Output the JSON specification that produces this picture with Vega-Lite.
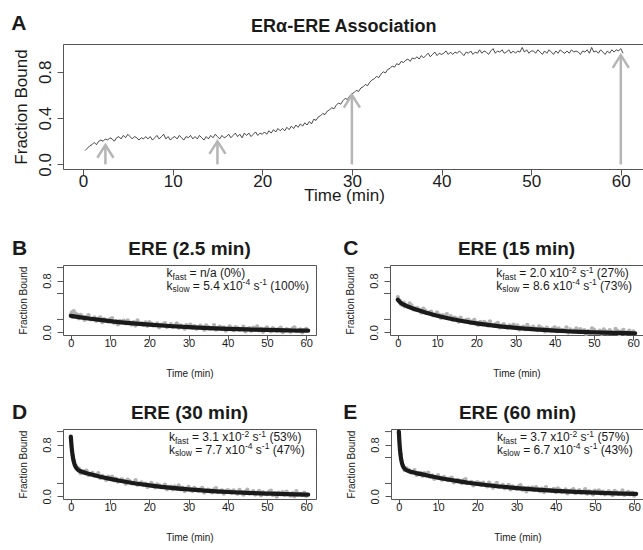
{
"$schema": "https://vega.github.io/schema/vega-lite/v6.json",
"autosize": {"type": "pad"},
"padding": {"left": 10, "top": 12, "right": 0, "bottom": 0},
"background": "white",
"config": {
 "font": "Liberation Sans",
 "view": {"stroke": "#555555", "strokeWidth": 1},
 "axis": {"domain": false, "grid": false, "tickColor": "#555555", "tickWidth": 1, "labelColor": "#1a1a1a", "titleColor": "#1a1a1a", "titleFontWeight": "normal", "labelFlush": false, "labelOverlap": false, "labelFont": "Liberation Sans", "titleFont": "Liberation Sans"},
 "text": {"baseline": "alphabetic", "align": "left", "color": "#1a1a1a", "font": "Liberation Sans"}
},
"datasets": {
 "minor": [{"v":0.2},{"v":0.6},{"v":1.0}],
 "trace": [
{"t":0.25,"y":0.12},{"t":0.5,"y":0.14},{"t":0.75,"y":0.16},{"t":1,"y":0.17},{"t":1.25,"y":0.19},{"t":1.5,"y":0.17},{"t":1.75,"y":0.2},{"t":2,"y":0.21},
{"t":2.25,"y":0.2},{"t":2.5,"y":0.22},{"t":2.75,"y":0.21},{"t":3,"y":0.23},{"t":3.25,"y":0.22},{"t":3.5,"y":0.2},{"t":3.75,"y":0.23},{"t":4,"y":0.24},
{"t":4.25,"y":0.22},{"t":4.5,"y":0.25},{"t":4.75,"y":0.23},{"t":5,"y":0.26},{"t":5.25,"y":0.24},{"t":5.5,"y":0.22},{"t":5.75,"y":0.24},{"t":6,"y":0.23},
{"t":6.25,"y":0.21},{"t":6.5,"y":0.23},{"t":6.75,"y":0.22},{"t":7,"y":0.24},{"t":7.25,"y":0.22},{"t":7.5,"y":0.24},{"t":7.75,"y":0.21},{"t":8,"y":0.23},
{"t":8.25,"y":0.25},{"t":8.5,"y":0.22},{"t":8.75,"y":0.24},{"t":9,"y":0.26},{"t":9.25,"y":0.22},{"t":9.5,"y":0.24},{"t":9.75,"y":0.21},{"t":10,"y":0.23},
{"t":10.25,"y":0.24},{"t":10.5,"y":0.22},{"t":10.75,"y":0.25},{"t":11,"y":0.23},{"t":11.25,"y":0.21},{"t":11.5,"y":0.24},{"t":11.75,"y":0.23},{"t":12,"y":0.25},
{"t":12.25,"y":0.22},{"t":12.5,"y":0.24},{"t":12.75,"y":0.22},{"t":13,"y":0.25},{"t":13.25,"y":0.23},{"t":13.5,"y":0.21},{"t":13.75,"y":0.24},{"t":14,"y":0.22},
{"t":14.25,"y":0.25},{"t":14.5,"y":0.23},{"t":14.75,"y":0.26},{"t":15,"y":0.24},{"t":15.25,"y":0.22},{"t":15.5,"y":0.25},{"t":15.75,"y":0.23},{"t":16,"y":0.24},
{"t":16.25,"y":0.26},{"t":16.5,"y":0.23},{"t":16.75,"y":0.25},{"t":17,"y":0.27},{"t":17.25,"y":0.24},{"t":17.5,"y":0.26},{"t":17.75,"y":0.23},{"t":18,"y":0.27},
{"t":18.25,"y":0.25},{"t":18.5,"y":0.27},{"t":18.75,"y":0.24},{"t":19,"y":0.26},{"t":19.25,"y":0.28},{"t":19.5,"y":0.25},{"t":19.75,"y":0.27},{"t":20,"y":0.26},
{"t":20.25,"y":0.28},{"t":20.5,"y":0.26},{"t":20.75,"y":0.29},{"t":21,"y":0.27},{"t":21.25,"y":0.3},{"t":21.5,"y":0.28},{"t":21.75,"y":0.31},{"t":22,"y":0.29},
{"t":22.25,"y":0.31},{"t":22.5,"y":0.29},{"t":22.75,"y":0.32},{"t":23,"y":0.3},{"t":23.25,"y":0.33},{"t":23.5,"y":0.31},{"t":23.75,"y":0.34},{"t":24,"y":0.32},
{"t":24.25,"y":0.35},{"t":24.5,"y":0.33},{"t":24.75,"y":0.36},{"t":25,"y":0.34},{"t":25.25,"y":0.37},{"t":25.5,"y":0.35},{"t":25.75,"y":0.39},{"t":26,"y":0.38},
{"t":26.25,"y":0.41},{"t":26.5,"y":0.42},{"t":26.75,"y":0.44},{"t":27,"y":0.43},{"t":27.25,"y":0.46},{"t":27.5,"y":0.47},{"t":27.75,"y":0.49},{"t":28,"y":0.48},
{"t":28.25,"y":0.51},{"t":28.5,"y":0.53},{"t":28.75,"y":0.52},{"t":29,"y":0.55},{"t":29.25,"y":0.57},{"t":29.5,"y":0.56},{"t":29.75,"y":0.59},{"t":30,"y":0.61},
{"t":30.25,"y":0.62},{"t":30.5,"y":0.64},{"t":30.75,"y":0.63},{"t":31,"y":0.66},{"t":31.25,"y":0.67},{"t":31.5,"y":0.69},{"t":31.75,"y":0.68},{"t":32,"y":0.71},
{"t":32.25,"y":0.73},{"t":32.5,"y":0.74},{"t":32.75,"y":0.76},{"t":33,"y":0.75},{"t":33.25,"y":0.78},{"t":33.5,"y":0.8},{"t":33.75,"y":0.79},{"t":34,"y":0.82},
{"t":34.25,"y":0.83},{"t":34.5,"y":0.85},{"t":34.75,"y":0.84},{"t":35,"y":0.87},{"t":35.25,"y":0.86},{"t":35.5,"y":0.89},{"t":35.75,"y":0.88},{"t":36,"y":0.9},
{"t":36.25,"y":0.91},{"t":36.5,"y":0.89},{"t":36.75,"y":0.92},{"t":37,"y":0.91},{"t":37.25,"y":0.93},{"t":37.5,"y":0.91},{"t":37.75,"y":0.94},{"t":38,"y":0.92},
{"t":38.25,"y":0.94},{"t":38.5,"y":0.96},{"t":38.75,"y":0.93},{"t":39,"y":0.95},{"t":39.25,"y":0.97},{"t":39.5,"y":0.94},{"t":39.75,"y":0.96},{"t":40,"y":0.95},
{"t":40.25,"y":0.96},{"t":40.5,"y":0.98},{"t":40.75,"y":0.95},{"t":41,"y":0.97},{"t":41.25,"y":0.95},{"t":41.5,"y":0.97},{"t":41.75,"y":0.96},{"t":42,"y":0.98},
{"t":42.25,"y":0.96},{"t":42.5,"y":0.94},{"t":42.75,"y":0.97},{"t":43,"y":0.96},{"t":43.25,"y":0.98},{"t":43.5,"y":0.95},{"t":43.75,"y":0.97},{"t":44,"y":0.96},
{"t":44.25,"y":0.99},{"t":44.5,"y":0.96},{"t":44.75,"y":0.98},{"t":45,"y":0.97},{"t":45.25,"y":0.95},{"t":45.5,"y":0.98},{"t":45.75,"y":1.0},{"t":46,"y":0.96},
{"t":46.25,"y":0.98},{"t":46.5,"y":0.97},{"t":46.75,"y":0.99},{"t":47,"y":0.96},{"t":47.25,"y":0.97},{"t":47.5,"y":0.99},{"t":47.75,"y":0.96},{"t":48,"y":0.98},
{"t":48.25,"y":0.96},{"t":48.5,"y":0.98},{"t":48.75,"y":0.97},{"t":49,"y":1.01},{"t":49.25,"y":0.97},{"t":49.5,"y":0.99},{"t":49.75,"y":0.96},{"t":50,"y":0.98},
{"t":50.25,"y":0.98},{"t":50.5,"y":0.96},{"t":50.75,"y":0.99},{"t":51,"y":0.97},{"t":51.25,"y":0.95},{"t":51.5,"y":0.98},{"t":51.75,"y":0.96},{"t":52,"y":0.99},
{"t":52.25,"y":0.97},{"t":52.5,"y":0.95},{"t":52.75,"y":0.98},{"t":53,"y":0.96},{"t":53.25,"y":0.99},{"t":53.5,"y":0.97},{"t":53.75,"y":0.96},{"t":54,"y":0.98},
{"t":54.25,"y":0.96},{"t":54.5,"y":0.99},{"t":54.75,"y":0.97},{"t":55,"y":0.98},{"t":55.25,"y":0.97},{"t":55.5,"y":0.95},{"t":55.75,"y":0.98},{"t":56,"y":0.97},
{"t":56.25,"y":0.99},{"t":56.5,"y":0.96},{"t":56.75,"y":1.01},{"t":57,"y":0.97},{"t":57.25,"y":0.98},{"t":57.5,"y":0.96},{"t":57.75,"y":0.99},{"t":58,"y":0.97},
{"t":58.25,"y":0.95},{"t":58.5,"y":0.98},{"t":58.75,"y":0.96},{"t":59,"y":0.99},{"t":59.25,"y":0.97},{"t":59.5,"y":0.99},{"t":59.75,"y":0.98},{"t":60,"y":1.0},
{"t":60.25,"y":0.96}
 ],
 "arrows": [
  {"a":1,"x":2.5,"y0":0,"y1":0.167},
  {"a":2,"x":15,"y0":0,"y1":0.2},
  {"a":3,"x":30,"y0":0,"y1":0.6},
  {"a":4,"x":60,"y0":0,"y1":0.944}
 ],
 "heads": [
  {"a":1,"x":1.6,"y":0.057},{"a":1,"x":2.5,"y":0.167},{"a":1,"x":3.4,"y":0.057},
  {"a":2,"x":14.1,"y":0.09},{"a":2,"x":15,"y":0.2},{"a":2,"x":15.9,"y":0.09},
  {"a":3,"x":29.1,"y":0.49},{"a":3,"x":30,"y":0.6},{"a":3,"x":30.9,"y":0.49},
  {"a":4,"x":59.1,"y":0.834},{"a":4,"x":60,"y":0.944},{"a":4,"x":60.9,"y":0.834}
 ],
 "fit": [
{"p":"B","t":0,"y":0.255},{"p":"B","t":2.5,"y":0.232},{"p":"B","t":5,"y":0.211},{"p":"B","t":7.5,"y":0.192},{"p":"B","t":10,"y":0.174},{"p":"B","t":15,"y":0.144},{"p":"B","t":20,"y":0.119},{"p":"B","t":25,"y":0.099},{"p":"B","t":30,"y":0.082},{"p":"B","t":35,"y":0.067},{"p":"B","t":40,"y":0.056},{"p":"B","t":45,"y":0.046},{"p":"B","t":50,"y":0.038},{"p":"B","t":55,"y":0.032},{"p":"B","t":60,"y":0.026},{"p":"B","t":60.5,"y":0.026},
{"p":"C","t":0,"y":0.505},{"p":"C","t":0.25,"y":0.485},{"p":"C","t":0.5,"y":0.47},{"p":"C","t":0.75,"y":0.457},{"p":"C","t":1,"y":0.446},{"p":"C","t":1.5,"y":0.428},{"p":"C","t":2,"y":0.412},{"p":"C","t":2.5,"y":0.399},{"p":"C","t":3,"y":0.387},{"p":"C","t":4,"y":0.365},{"p":"C","t":5,"y":0.344},{"p":"C","t":7.5,"y":0.299},{"p":"C","t":10,"y":0.258},{"p":"C","t":12.5,"y":0.223},{"p":"C","t":15,"y":0.192},{"p":"C","t":17.5,"y":0.164},{"p":"C","t":20,"y":0.14},{"p":"C","t":25,"y":0.1},{"p":"C","t":30,"y":0.07},{"p":"C","t":35,"y":0.046},{"p":"C","t":40,"y":0.027},{"p":"C","t":45,"y":0.013},{"p":"C","t":50,"y":0.002},{"p":"C","t":55,"y":-0.006},{"p":"C","t":60,"y":-0.013},{"p":"C","t":60.5,"y":-0.013},
{"p":"D","t":0,"y":0.92},{"p":"D","t":0.1,"y":0.835},{"p":"D","t":0.25,"y":0.733},{"p":"D","t":0.5,"y":0.614},{"p":"D","t":0.75,"y":0.537},{"p":"D","t":1,"y":0.487},{"p":"D","t":1.5,"y":0.431},{"p":"D","t":2,"y":0.404},{"p":"D","t":3,"y":0.376},{"p":"D","t":4,"y":0.358},{"p":"D","t":5,"y":0.341},{"p":"D","t":7.5,"y":0.304},{"p":"D","t":10,"y":0.271},{"p":"D","t":12.5,"y":0.241},{"p":"D","t":15,"y":0.215},{"p":"D","t":17.5,"y":0.191},{"p":"D","t":20,"y":0.171},{"p":"D","t":25,"y":0.136},{"p":"D","t":30,"y":0.108},{"p":"D","t":35,"y":0.085},{"p":"D","t":40,"y":0.068},{"p":"D","t":45,"y":0.054},{"p":"D","t":50,"y":0.043},{"p":"D","t":55,"y":0.034},{"p":"D","t":60,"y":0.027},{"p":"D","t":60.5,"y":0.026},
{"p":"E","t":0,"y":1.0},{"p":"E","t":0.1,"y":0.885},{"p":"E","t":0.25,"y":0.753},{"p":"E","t":0.5,"y":0.609},{"p":"E","t":0.75,"y":0.525},{"p":"E","t":1,"y":0.475},{"p":"E","t":1.5,"y":0.425},{"p":"E","t":2,"y":0.404},{"p":"E","t":3,"y":0.382},{"p":"E","t":4,"y":0.366},{"p":"E","t":5,"y":0.352},{"p":"E","t":7.5,"y":0.318},{"p":"E","t":10,"y":0.288},{"p":"E","t":12.5,"y":0.26},{"p":"E","t":15,"y":0.235},{"p":"E","t":17.5,"y":0.213},{"p":"E","t":20,"y":0.192},{"p":"E","t":25,"y":0.157},{"p":"E","t":30,"y":0.129},{"p":"E","t":35,"y":0.105},{"p":"E","t":40,"y":0.086},{"p":"E","t":45,"y":0.07},{"p":"E","t":50,"y":0.058},{"p":"E","t":55,"y":0.047},{"p":"E","t":60,"y":0.039},{"p":"E","t":60.5,"y":0.038}
 ],
 "pts": [
{"p":"B","t":0,"y":0.275},{"p":"B","t":0.25,"y":0.31},{"p":"B","t":0.5,"y":0.24},{"p":"B","t":0.75,"y":0.33},{"p":"B","t":1,"y":0.276},{"p":"B","t":1.25,"y":0.29},{"p":"B","t":1.5,"y":0.241},{"p":"B","t":1.75,"y":0.27},
{"p":"B","t":2,"y":0.217},{"p":"B","t":2.5,"y":0.272},{"p":"B","t":3,"y":0.238},{"p":"B","t":3.5,"y":0.193},{"p":"B","t":4,"y":0.239},{"p":"B","t":4.5,"y":0.265},{"p":"B","t":5,"y":0.201},{"p":"B","t":5.5,"y":0.207},
{"p":"B","t":6,"y":0.233},{"p":"B","t":6.5,"y":0.179},{"p":"B","t":7,"y":0.206},{"p":"B","t":7.5,"y":0.232},{"p":"B","t":8,"y":0.158},{"p":"B","t":8.5,"y":0.205},{"p":"B","t":9,"y":0.181},{"p":"B","t":9.5,"y":0.168},
{"p":"B","t":10,"y":0.204},{"p":"B","t":10.5,"y":0.221},{"p":"B","t":11,"y":0.148},{"p":"B","t":11.5,"y":0.175},{"p":"B","t":12,"y":0.122},{"p":"B","t":12.5,"y":0.179},{"p":"B","t":13,"y":0.156},{"p":"B","t":13.5,"y":0.183},
{"p":"B","t":14,"y":0.14},{"p":"B","t":14.5,"y":0.187},{"p":"B","t":15,"y":0.154},{"p":"B","t":15.5,"y":0.121},{"p":"B","t":16,"y":0.159},{"p":"B","t":16.5,"y":0.106},{"p":"B","t":17,"y":0.184},{"p":"B","t":17.5,"y":0.131},
{"p":"B","t":18,"y":0.139},{"p":"B","t":18.5,"y":0.116},{"p":"B","t":19,"y":0.154},{"p":"B","t":19.5,"y":0.101},{"p":"B","t":20,"y":0.159},{"p":"B","t":20.5,"y":0.137},{"p":"B","t":21,"y":0.105},{"p":"B","t":21.5,"y":0.112},
{"p":"B","t":22,"y":0.14},{"p":"B","t":22.5,"y":0.078},{"p":"B","t":23,"y":0.116},{"p":"B","t":23.5,"y":0.124},{"p":"B","t":24,"y":0.142},{"p":"B","t":24.5,"y":0.08},{"p":"B","t":25,"y":0.099},{"p":"B","t":25.5,"y":0.127},
{"p":"B","t":26,"y":0.085},{"p":"B","t":26.5,"y":0.103},{"p":"B","t":27,"y":0.141},{"p":"B","t":27.5,"y":0.07},{"p":"B","t":28,"y":0.108},{"p":"B","t":28.5,"y":0.086},{"p":"B","t":29,"y":0.055},{"p":"B","t":29.5,"y":0.113},
{"p":"B","t":30,"y":0.092},{"p":"B","t":30.5,"y":0.12},{"p":"B","t":31,"y":0.069},{"p":"B","t":31.5,"y":0.097},{"p":"B","t":32,"y":0.056},{"p":"B","t":32.5,"y":0.074},{"p":"B","t":33,"y":0.103},{"p":"B","t":33.5,"y":0.082},
{"p":"B","t":34,"y":0.04},{"p":"B","t":34.5,"y":0.109},{"p":"B","t":35,"y":0.087},{"p":"B","t":35.5,"y":0.056},{"p":"B","t":36,"y":0.065},{"p":"B","t":36.5,"y":0.114},{"p":"B","t":37,"y":0.042},{"p":"B","t":37.5,"y":0.071},
{"p":"B","t":38,"y":0.09},{"p":"B","t":38.5,"y":0.049},{"p":"B","t":39,"y":0.078},{"p":"B","t":39.5,"y":0.027},{"p":"B","t":40,"y":0.056},{"p":"B","t":40.5,"y":0.095},{"p":"B","t":41,"y":0.064},{"p":"B","t":41.5,"y":0.033},
{"p":"B","t":42,"y":0.082},{"p":"B","t":42.5,"y":0.071},{"p":"B","t":43,"y":0.04},{"p":"B","t":43.5,"y":0.049},{"p":"B","t":44,"y":0.088},{"p":"B","t":44.5,"y":0.017},{"p":"B","t":45,"y":0.056},{"p":"B","t":45.5,"y":0.065},
{"p":"B","t":46,"y":0.024},{"p":"B","t":46.5,"y":0.074},{"p":"B","t":47,"y":0.043},{"p":"B","t":47.5,"y":0.092},{"p":"B","t":48,"y":0.031},{"p":"B","t":48.5,"y":0.06},{"p":"B","t":49,"y":0.01},{"p":"B","t":49.5,"y":0.049},
{"p":"B","t":50,"y":0.078},{"p":"B","t":50.5,"y":0.037},{"p":"B","t":51,"y":0.017},{"p":"B","t":51.5,"y":0.066},{"p":"B","t":52,"y":0.045},{"p":"B","t":52.5,"y":0.025},{"p":"B","t":53,"y":0.054},{"p":"B","t":53.5,"y":0.073},
{"p":"B","t":54,"y":0.003},{"p":"B","t":54.5,"y":0.032},{"p":"B","t":55,"y":0.052},{"p":"B","t":55.5,"y":0.041},{"p":"B","t":56,"y":0.01},{"p":"B","t":56.5,"y":0.06},{"p":"B","t":57,"y":0.079},{"p":"B","t":57.5,"y":0.019},
{"p":"B","t":58,"y":0.028},{"p":"B","t":58.5,"y":0.048},{"p":"B","t":59,"y":-0.003},{"p":"B","t":59.5,"y":0.037},{"p":"B","t":60,"y":0.056},
{"p":"C","t":0,"y":0.545},{"p":"C","t":0.25,"y":0.5},{"p":"C","t":0.5,"y":0.49},{"p":"C","t":0.75,"y":0.44},{"p":"C","t":1,"y":0.426},{"p":"C","t":1.25,"y":0.45},{"p":"C","t":1.5,"y":0.458},{"p":"C","t":1.75,"y":0.4},
{"p":"C","t":2,"y":0.422},{"p":"C","t":2.5,"y":0.399},{"p":"C","t":3,"y":0.447},{"p":"C","t":3.5,"y":0.416},{"p":"C","t":4,"y":0.355},{"p":"C","t":4.5,"y":0.374},{"p":"C","t":5,"y":0.374},{"p":"C","t":5.5,"y":0.345},
{"p":"C","t":6,"y":0.305},{"p":"C","t":6.5,"y":0.366},{"p":"C","t":7,"y":0.337},{"p":"C","t":7.5,"y":0.299},{"p":"C","t":8,"y":0.31},{"p":"C","t":8.5,"y":0.322},{"p":"C","t":9,"y":0.264},{"p":"C","t":9.5,"y":0.276},
{"p":"C","t":10,"y":0.308},{"p":"C","t":10.5,"y":0.271},{"p":"C","t":11,"y":0.224},{"p":"C","t":11.5,"y":0.266},{"p":"C","t":12,"y":0.23},{"p":"C","t":12.5,"y":0.283},{"p":"C","t":13,"y":0.226},{"p":"C","t":13.5,"y":0.25},
{"p":"C","t":14,"y":0.194},{"p":"C","t":14.5,"y":0.228},{"p":"C","t":15,"y":0.212},{"p":"C","t":15.5,"y":0.166},{"p":"C","t":16,"y":0.23},{"p":"C","t":16.5,"y":0.185},{"p":"C","t":17,"y":0.169},{"p":"C","t":17.5,"y":0.194},
{"p":"C","t":18,"y":0.199},{"p":"C","t":18.5,"y":0.144},{"p":"C","t":19,"y":0.169},{"p":"C","t":19.5,"y":0.195},{"p":"C","t":20,"y":0.15},{"p":"C","t":20.5,"y":0.116},{"p":"C","t":21,"y":0.161},{"p":"C","t":21.5,"y":0.127},
{"p":"C","t":22,"y":0.163},{"p":"C","t":22.5,"y":0.139},{"p":"C","t":23,"y":0.105},{"p":"C","t":23.5,"y":0.171},{"p":"C","t":24,"y":0.118},{"p":"C","t":24.5,"y":0.104},{"p":"C","t":25,"y":0.13},{"p":"C","t":25.5,"y":0.147},
{"p":"C","t":26,"y":0.074},{"p":"C","t":26.5,"y":0.11},{"p":"C","t":27,"y":0.127},{"p":"C","t":27.5,"y":0.094},{"p":"C","t":28,"y":0.071},{"p":"C","t":28.5,"y":0.108},{"p":"C","t":29,"y":0.075},{"p":"C","t":29.5,"y":0.122},
{"p":"C","t":30,"y":0.09},{"p":"C","t":30.5,"y":0.107},{"p":"C","t":31,"y":0.044},{"p":"C","t":31.5,"y":0.072},{"p":"C","t":32,"y":0.089},{"p":"C","t":32.5,"y":0.047},{"p":"C","t":33,"y":0.115},{"p":"C","t":33.5,"y":0.072},
{"p":"C","t":34,"y":0.05},{"p":"C","t":34.5,"y":0.088},{"p":"C","t":35,"y":0.056},{"p":"C","t":35.5,"y":0.034},{"p":"C","t":36,"y":0.092},{"p":"C","t":36.5,"y":0.07},{"p":"C","t":37,"y":0.058},{"p":"C","t":37.5,"y":0.016},
{"p":"C","t":38,"y":0.074},{"p":"C","t":38.5,"y":0.043},{"p":"C","t":39,"y":0.031},{"p":"C","t":39.5,"y":0.059},{"p":"C","t":40,"y":0.077},{"p":"C","t":40.5,"y":0.016},{"p":"C","t":41,"y":0.064},{"p":"C","t":41.5,"y":0.023},
{"p":"C","t":42,"y":0.041},{"p":"C","t":42.5,"y":0.03},{"p":"C","t":43,"y":0.079},{"p":"C","t":43.5,"y":-0.003},{"p":"C","t":44,"y":0.046},{"p":"C","t":44.5,"y":0.005},{"p":"C","t":45,"y":0.033},{"p":"C","t":45.5,"y":0.062},
{"p":"C","t":46,"y":0.011},{"p":"C","t":46.5,"y":0.05},{"p":"C","t":47,"y":0.019},{"p":"C","t":47.5,"y":0.037},{"p":"C","t":48,"y":-0.024},{"p":"C","t":48.5,"y":0.025},{"p":"C","t":49,"y":-0.006},{"p":"C","t":49.5,"y":0.063},
{"p":"C","t":50,"y":0.042},{"p":"C","t":50.5,"y":0.001},{"p":"C","t":51,"y":0.01},{"p":"C","t":51.5,"y":0.029},{"p":"C","t":52,"y":-0.021},{"p":"C","t":52.5,"y":0.048},{"p":"C","t":53,"y":0.017},{"p":"C","t":53.5,"y":-0.014},
{"p":"C","t":54,"y":0.035},{"p":"C","t":54.5,"y":0.004},{"p":"C","t":55,"y":-0.006},{"p":"C","t":55.5,"y":0.053},{"p":"C","t":56,"y":0.022},{"p":"C","t":56.5,"y":-0.028},{"p":"C","t":57,"y":0.011},{"p":"C","t":57.5,"y":0.04},
{"p":"C","t":58,"y":-0.02},{"p":"C","t":58.5,"y":-0.001},{"p":"C","t":59,"y":0.028},{"p":"C","t":59.5,"y":-0.012},{"p":"C","t":60,"y":0.017},
{"p":"D","t":0,"y":0.925},{"p":"D","t":0.25,"y":0.7},{"p":"D","t":0.5,"y":0.634},{"p":"D","t":0.75,"y":0.55},{"p":"D","t":1,"y":0.477},{"p":"D","t":1.25,"y":0.47},{"p":"D","t":1.5,"y":0.431},{"p":"D","t":1.75,"y":0.43},
{"p":"D","t":2,"y":0.434},{"p":"D","t":2.5,"y":0.358},{"p":"D","t":3,"y":0.386},{"p":"D","t":3.5,"y":0.387},{"p":"D","t":4,"y":0.398},{"p":"D","t":4.5,"y":0.329},{"p":"D","t":5,"y":0.341},{"p":"D","t":5.5,"y":0.364},
{"p":"D","t":6,"y":0.316},{"p":"D","t":6.5,"y":0.329},{"p":"D","t":7,"y":0.361},{"p":"D","t":7.5,"y":0.284},{"p":"D","t":8,"y":0.317},{"p":"D","t":8.5,"y":0.29},{"p":"D","t":9,"y":0.254},{"p":"D","t":9.5,"y":0.307},
{"p":"D","t":10,"y":0.281},{"p":"D","t":10.5,"y":0.305},{"p":"D","t":11,"y":0.249},{"p":"D","t":11.5,"y":0.273},{"p":"D","t":12,"y":0.227},{"p":"D","t":12.5,"y":0.241},{"p":"D","t":13,"y":0.266},{"p":"D","t":13.5,"y":0.241},
{"p":"D","t":14,"y":0.195},{"p":"D","t":14.5,"y":0.26},{"p":"D","t":15,"y":0.235},{"p":"D","t":15.5,"y":0.2},{"p":"D","t":16,"y":0.205},{"p":"D","t":16.5,"y":0.251},{"p":"D","t":17,"y":0.176},{"p":"D","t":17.5,"y":0.202},
{"p":"D","t":18,"y":0.217},{"p":"D","t":18.5,"y":0.173},{"p":"D","t":19,"y":0.199},{"p":"D","t":19.5,"y":0.145},{"p":"D","t":20,"y":0.171},{"p":"D","t":20.5,"y":0.207},{"p":"D","t":21,"y":0.173},{"p":"D","t":21.5,"y":0.139},
{"p":"D","t":22,"y":0.186},{"p":"D","t":22.5,"y":0.172},{"p":"D","t":23,"y":0.139},{"p":"D","t":23.5,"y":0.145},{"p":"D","t":24,"y":0.182},{"p":"D","t":24.5,"y":0.109},{"p":"D","t":25,"y":0.146},{"p":"D","t":25.5,"y":0.152},
{"p":"D","t":26,"y":0.109},{"p":"D","t":26.5,"y":0.156},{"p":"D","t":27,"y":0.124},{"p":"D","t":27.5,"y":0.171},{"p":"D","t":28,"y":0.108},{"p":"D","t":28.5,"y":0.135},{"p":"D","t":29,"y":0.083},{"p":"D","t":29.5,"y":0.12},
{"p":"D","t":30,"y":0.148},{"p":"D","t":30.5,"y":0.105},{"p":"D","t":31,"y":0.083},{"p":"D","t":31.5,"y":0.13},{"p":"D","t":32,"y":0.108},{"p":"D","t":32.5,"y":0.086},{"p":"D","t":33,"y":0.114},{"p":"D","t":33.5,"y":0.132},
{"p":"D","t":34,"y":0.059},{"p":"D","t":34.5,"y":0.087},{"p":"D","t":35,"y":0.105},{"p":"D","t":35.5,"y":0.093},{"p":"D","t":36,"y":0.062},{"p":"D","t":36.5,"y":0.11},{"p":"D","t":37,"y":0.128},{"p":"D","t":37.5,"y":0.066},
{"p":"D","t":38,"y":0.074},{"p":"D","t":38.5,"y":0.093},{"p":"D","t":39,"y":0.041},{"p":"D","t":39.5,"y":0.079},{"p":"D","t":40,"y":0.098},{"p":"D","t":40.5,"y":0.086},{"p":"D","t":41,"y":0.055},{"p":"D","t":41.5,"y":0.093},
{"p":"D","t":42,"y":0.062},{"p":"D","t":42.5,"y":0.04},{"p":"D","t":43,"y":0.099},{"p":"D","t":43.5,"y":0.068},{"p":"D","t":44,"y":0.026},{"p":"D","t":44.5,"y":0.075},{"p":"D","t":45,"y":0.104},{"p":"D","t":45.5,"y":0.043},
{"p":"D","t":46,"y":0.051},{"p":"D","t":46.5,"y":0.08},{"p":"D","t":47,"y":0.029},{"p":"D","t":47.5,"y":0.058},{"p":"D","t":48,"y":0.087},{"p":"D","t":48.5,"y":0.016},{"p":"D","t":49,"y":0.065},{"p":"D","t":49.5,"y":0.044},
{"p":"D","t":50,"y":0.033},{"p":"D","t":50.5,"y":0.072},{"p":"D","t":51,"y":0.091},{"p":"D","t":51.5,"y":0.02},{"p":"D","t":52,"y":0.049},{"p":"D","t":52.5,"y":-0.002},{"p":"D","t":53,"y":0.057},{"p":"D","t":53.5,"y":0.036},
{"p":"D","t":54,"y":0.066},{"p":"D","t":54.5,"y":0.025},{"p":"D","t":55,"y":0.074},{"p":"D","t":55.5,"y":0.043},{"p":"D","t":56,"y":0.012},{"p":"D","t":56.5,"y":0.052},{"p":"D","t":57,"y":0.001},{"p":"D","t":57.5,"y":0.08},
{"p":"D","t":58,"y":0.029},{"p":"D","t":58.5,"y":0.039},{"p":"D","t":59,"y":0.018},{"p":"D","t":59.5,"y":0.058},{"p":"D","t":60,"y":0.007},
{"p":"E","t":0,"y":0.985},{"p":"E","t":0.25,"y":0.72},{"p":"E","t":0.5,"y":0.649},{"p":"E","t":0.75,"y":0.53},{"p":"E","t":1,"y":0.485},{"p":"E","t":1.25,"y":0.45},{"p":"E","t":1.5,"y":0.405},{"p":"E","t":1.75,"y":0.42},
{"p":"E","t":2,"y":0.434},{"p":"E","t":2.5,"y":0.411},{"p":"E","t":3,"y":0.372},{"p":"E","t":3.5,"y":0.374},{"p":"E","t":4,"y":0.406},{"p":"E","t":4.5,"y":0.329},{"p":"E","t":5,"y":0.362},{"p":"E","t":5.5,"y":0.365},
{"p":"E","t":6,"y":0.318},{"p":"E","t":6.5,"y":0.361},{"p":"E","t":7,"y":0.325},{"p":"E","t":7.5,"y":0.368},{"p":"E","t":8,"y":0.302},{"p":"E","t":8.5,"y":0.326},{"p":"E","t":9,"y":0.269},{"p":"E","t":9.5,"y":0.303},
{"p":"E","t":10,"y":0.328},{"p":"E","t":10.5,"y":0.282},{"p":"E","t":11,"y":0.256},{"p":"E","t":11.5,"y":0.301},{"p":"E","t":12,"y":0.275},{"p":"E","t":12.5,"y":0.25},{"p":"E","t":13,"y":0.275},{"p":"E","t":13.5,"y":0.29},
{"p":"E","t":14,"y":0.215},{"p":"E","t":14.5,"y":0.24},{"p":"E","t":15,"y":0.255},{"p":"E","t":15.5,"y":0.241},{"p":"E","t":16,"y":0.206},{"p":"E","t":16.5,"y":0.251},{"p":"E","t":17,"y":0.267},{"p":"E","t":17.5,"y":0.203},
{"p":"E","t":18,"y":0.209},{"p":"E","t":18.5,"y":0.224},{"p":"E","t":19,"y":0.17},{"p":"E","t":19.5,"y":0.206},{"p":"E","t":20,"y":0.222},{"p":"E","t":20.5,"y":0.209},{"p":"E","t":21,"y":0.175},{"p":"E","t":21.5,"y":0.211},
{"p":"E","t":22,"y":0.178},{"p":"E","t":22.5,"y":0.154},{"p":"E","t":23,"y":0.211},{"p":"E","t":23.5,"y":0.177},{"p":"E","t":24,"y":0.134},{"p":"E","t":24.5,"y":0.181},{"p":"E","t":25,"y":0.207},{"p":"E","t":25.5,"y":0.144},
{"p":"E","t":26,"y":0.151},{"p":"E","t":26.5,"y":0.178},{"p":"E","t":27,"y":0.125},{"p":"E","t":27.5,"y":0.152},{"p":"E","t":28,"y":0.179},{"p":"E","t":28.5,"y":0.107},{"p":"E","t":29,"y":0.154},{"p":"E","t":29.5,"y":0.131},
{"p":"E","t":30,"y":0.119},{"p":"E","t":30.5,"y":0.156},{"p":"E","t":31,"y":0.174},{"p":"E","t":31.5,"y":0.101},{"p":"E","t":32,"y":0.129},{"p":"E","t":32.5,"y":0.076},{"p":"E","t":33,"y":0.134},{"p":"E","t":33.5,"y":0.112},
{"p":"E","t":34,"y":0.14},{"p":"E","t":34.5,"y":0.097},{"p":"E","t":35,"y":0.145},{"p":"E","t":35.5,"y":0.113},{"p":"E","t":36,"y":0.081},{"p":"E","t":36.5,"y":0.119},{"p":"E","t":37,"y":0.067},{"p":"E","t":37.5,"y":0.145},
{"p":"E","t":38,"y":0.093},{"p":"E","t":38.5,"y":0.101},{"p":"E","t":39,"y":0.08},{"p":"E","t":39.5,"y":0.118},{"p":"E","t":40,"y":0.066},{"p":"E","t":40.5,"y":0.124},{"p":"E","t":41,"y":0.103},{"p":"E","t":41.5,"y":0.071},
{"p":"E","t":42,"y":0.079},{"p":"E","t":42.5,"y":0.108},{"p":"E","t":43,"y":0.046},{"p":"E","t":43.5,"y":0.085},{"p":"E","t":44,"y":0.093},{"p":"E","t":44.5,"y":0.112},{"p":"E","t":45,"y":0.05},{"p":"E","t":45.5,"y":0.069},
{"p":"E","t":46,"y":0.098},{"p":"E","t":46.5,"y":0.056},{"p":"E","t":47,"y":0.075},{"p":"E","t":47.5,"y":0.114},{"p":"E","t":48,"y":0.042},{"p":"E","t":48.5,"y":0.081},{"p":"E","t":49,"y":0.06},{"p":"E","t":49.5,"y":0.029},
{"p":"E","t":50,"y":0.088},{"p":"E","t":50.5,"y":0.066},{"p":"E","t":51,"y":0.095},{"p":"E","t":51.5,"y":0.044},{"p":"E","t":52,"y":0.073},{"p":"E","t":52.5,"y":0.032},{"p":"E","t":53,"y":0.051},{"p":"E","t":53.5,"y":0.08},
{"p":"E","t":54,"y":0.059},{"p":"E","t":54.5,"y":0.018},{"p":"E","t":55,"y":0.087},{"p":"E","t":55.5,"y":0.066},{"p":"E","t":56,"y":0.035},{"p":"E","t":56.5,"y":0.044},{"p":"E","t":57,"y":0.093},{"p":"E","t":57.5,"y":0.023},
{"p":"E","t":58,"y":0.052},{"p":"E","t":58.5,"y":0.071},{"p":"E","t":59,"y":0.03},{"p":"E","t":59.5,"y":0.059},{"p":"E","t":60,"y":0.009}
 ]
},
"spacing": 33,
"vconcat": [
 {
  "width": 582, "height": 125,
  "data": {"values": [{}]},
  "layer": [
   {"data": {"name": "trace"}, "mark": {"type": "line", "color": "#1a1a1a", "strokeWidth": 0.8},
    "encoding": {
     "x": {"field": "t", "type": "quantitative", "scale": {"domain": [-2.23, 62.7], "nice": false},
       "axis": {"values": [0,10,20,30,40,50,60], "title": "Time (min)", "labelFontSize": 17, "titleFontSize": 17, "tickSize": 6, "labelPadding": -2, "titlePadding": -2, "titleX": 281}},
     "y": {"field": "y", "type": "quantitative", "scale": {"domain": [-0.04, 1.04], "nice": false},
       "axis": {"values": [0,0.2,0.4,0.6,0.8,1], "labelExpr": "datum.value == 0 || datum.value == 0.4 || datum.value == 0.8 ? format(datum.value, '.1f') : ''", "labelOverlap": false, "labelAngle": -90, "labelAlign": "center", "labelBaseline": "alphabetic", "labelFontSize": 17, "labelPadding": 7, "tickSize": 6, "title": "Fraction Bound", "titleFontSize": 17, "titlePadding": 6}}
    }},
   {"data": {"name": "arrows"}, "mark": {"type": "rule", "color": "#b5b5b5", "strokeWidth": 2.5},
    "encoding": {"x": {"field": "x", "type": "quantitative"}, "y": {"field": "y0", "type": "quantitative"}, "y2": {"field": "y1"}}},
   {"data": {"name": "heads"}, "mark": {"type": "line", "color": "#b5b5b5", "strokeWidth": 2.5},
    "encoding": {"x": {"field": "x", "type": "quantitative"}, "y": {"field": "y", "type": "quantitative"}, "detail": {"field": "a"}}},
   {"mark": {"type": "text", "text": "ERα-ERE Association", "fontSize": 18, "fontWeight": "bold", "align": "center"}, "encoding": {"x": {"datum": 29.1}, "y": {"datum": 1.143}}},
   {"mark": {"type": "text", "text": "A", "fontSize": 21, "fontWeight": "bold"}, "encoding": {"x": {"datum": -8}, "y": {"datum": 1.16}}}
  ]
 },
 {
  "spacing": 22,
  "vconcat": [
   {
    "spacing": 24,
    "hconcat": [
     {
      "width": 253, "height": 70,
      "data": {"values": [{}]},
      "layer": [
       {"data": {"name": "pts"}, "transform": [{"filter": "datum.p == 'B'"}], "mark": {"type": "circle", "size": 18, "color": "#b3b3b3", "opacity": 1},
        "encoding": {
         "x": {"field": "t", "type": "quantitative", "scale": {"domain": [-2, 62.5], "nice": false},
           "axis": {"values": [0,10,20,30,40,50,60], "title": "Time (min)", "labelFontSize": 11, "titleFontSize": 10, "tickSize": 5, "labelPadding": -3, "titlePadding": 20}},
         "y": {"field": "y", "type": "quantitative", "scale": {"domain": [-0.04, 1.04], "nice": false},
           "axis": {"values": [0,0.4,0.8], "format": ".1f", "labelOverlap": false, "labelAngle": -90, "labelAlign": "center", "labelBaseline": "alphabetic", "labelFontSize": 11, "labelPadding": 7, "tickSize": 6, "title": "Fraction Bound", "titleFontSize": 10, "titleX": -37, "titleY": 35, "titleAngle": -90, "titleAlign": "center", "titleBaseline": "alphabetic"}}
        }},
       {"data": {"name": "minor"}, "mark": {"type": "rule", "color": "#555555", "strokeWidth": 1}, "encoding": {"x": {"datum": -3.53}, "x2": {"datum": -2}, "y": {"field": "v", "type": "quantitative"}}},
       {"data": {"name": "fit"}, "transform": [{"filter": "datum.p == 'B'"}], "mark": {"type": "line", "color": "#1a1a1a", "strokeWidth": 4.2, "interpolate": "monotone", "strokeCap": "round"},
        "encoding": {"x": {"field": "t", "type": "quantitative"}, "y": {"field": "y", "type": "quantitative"}}},
       {"mark": {"type": "text", "text": "k", "fontSize": 12}, "encoding": {"x": {"datum": 24.4}, "y": {"datum": 0.85}}},
       {"mark": {"type": "text", "text": "fast", "fontSize": 8.5, "dx": 6, "dy": 2.5}, "encoding": {"x": {"datum": 24.4}, "y": {"datum": 0.85}}},
       {"mark": {"type": "text", "text": "= n/a (0%)", "fontSize": 12, "dx": 23}, "encoding": {"x": {"datum": 24.4}, "y": {"datum": 0.85}}},
       {"mark": {"type": "text", "text": "k", "fontSize": 12}, "encoding": {"x": {"datum": 24.4}, "y": {"datum": 0.66}}},
       {"mark": {"type": "text", "text": "slow", "fontSize": 8.5, "dx": 6, "dy": 2.5}, "encoding": {"x": {"datum": 24.4}, "y": {"datum": 0.66}}},
       {"mark": {"type": "text", "text": "= 5.4 x10", "fontSize": 12, "dx": 26.3}, "encoding": {"x": {"datum": 24.4}, "y": {"datum": 0.66}}},
       {"mark": {"type": "text", "text": "-4", "fontSize": 8.5, "dx": 76, "dy": -4.5}, "encoding": {"x": {"datum": 24.4}, "y": {"datum": 0.66}}},
       {"mark": {"type": "text", "text": "s", "fontSize": 12, "dx": 86.9}, "encoding": {"x": {"datum": 24.4}, "y": {"datum": 0.66}}},
       {"mark": {"type": "text", "text": "-1", "fontSize": 8.5, "dx": 92.9, "dy": -4.5}, "encoding": {"x": {"datum": 24.4}, "y": {"datum": 0.66}}},
       {"mark": {"type": "text", "text": "(100%)", "fontSize": 12, "dx": 103.8}, "encoding": {"x": {"datum": 24.4}, "y": {"datum": 0.66}}},
       {"mark": {"type": "text", "text": "ERE (2.5 min)", "fontSize": 19, "fontWeight": "bold", "align": "center"}, "encoding": {"x": {"datum": 30.25}, "y": {"datum": 1.194}}},
       {"mark": {"type": "text", "text": "B", "fontSize": 21, "fontWeight": "bold"}, "encoding": {"x": {"datum": -15}, "y": {"datum": 1.19}}}
      ]
     },
     {
      "width": 253, "height": 70,
      "data": {"values": [{}]},
      "layer": [
       {"data": {"name": "pts"}, "transform": [{"filter": "datum.p == 'C'"}], "mark": {"type": "circle", "size": 18, "color": "#b3b3b3", "opacity": 1},
        "encoding": {
         "x": {"field": "t", "type": "quantitative", "scale": {"domain": [-2, 62.5], "nice": false},
           "axis": {"values": [0,10,20,30,40,50,60], "title": "Time (min)", "labelFontSize": 11, "titleFontSize": 10, "tickSize": 5, "labelPadding": -3, "titlePadding": 20}},
         "y": {"field": "y", "type": "quantitative", "scale": {"domain": [-0.04, 1.04], "nice": false},
           "axis": {"values": [0,0.4,0.8], "format": ".1f", "labelOverlap": false, "labelAngle": -90, "labelAlign": "center", "labelBaseline": "alphabetic", "labelFontSize": 11, "labelPadding": 7, "tickSize": 6, "title": "Fraction Bound", "titleFontSize": 10, "titleX": -37, "titleY": 35, "titleAngle": -90, "titleAlign": "center", "titleBaseline": "alphabetic"}}
        }},
       {"data": {"name": "minor"}, "mark": {"type": "rule", "color": "#555555", "strokeWidth": 1}, "encoding": {"x": {"datum": -3.53}, "x2": {"datum": -2}, "y": {"field": "v", "type": "quantitative"}}},
       {"data": {"name": "fit"}, "transform": [{"filter": "datum.p == 'C'"}], "mark": {"type": "line", "color": "#1a1a1a", "strokeWidth": 4.2, "interpolate": "monotone", "strokeCap": "round"},
        "encoding": {"x": {"field": "t", "type": "quantitative"}, "y": {"field": "y", "type": "quantitative"}}},
       {"mark": {"type": "text", "text": "k", "fontSize": 12}, "encoding": {"x": {"datum": 25.1}, "y": {"datum": 0.85}}},
       {"mark": {"type": "text", "text": "fast", "fontSize": 8.5, "dx": 6, "dy": 2.5}, "encoding": {"x": {"datum": 25.1}, "y": {"datum": 0.85}}},
       {"mark": {"type": "text", "text": "= 2.0 x10", "fontSize": 12, "dx": 23}, "encoding": {"x": {"datum": 25.1}, "y": {"datum": 0.85}}},
       {"mark": {"type": "text", "text": "-2", "fontSize": 8.5, "dx": 72.7, "dy": -4.5}, "encoding": {"x": {"datum": 25.1}, "y": {"datum": 0.85}}},
       {"mark": {"type": "text", "text": "s", "fontSize": 12, "dx": 83.6}, "encoding": {"x": {"datum": 25.1}, "y": {"datum": 0.85}}},
       {"mark": {"type": "text", "text": "-1", "fontSize": 8.5, "dx": 89.6, "dy": -4.5}, "encoding": {"x": {"datum": 25.1}, "y": {"datum": 0.85}}},
       {"mark": {"type": "text", "text": "(27%)", "fontSize": 12, "dx": 100.5}, "encoding": {"x": {"datum": 25.1}, "y": {"datum": 0.85}}},
       {"mark": {"type": "text", "text": "k", "fontSize": 12}, "encoding": {"x": {"datum": 25.1}, "y": {"datum": 0.66}}},
       {"mark": {"type": "text", "text": "slow", "fontSize": 8.5, "dx": 6, "dy": 2.5}, "encoding": {"x": {"datum": 25.1}, "y": {"datum": 0.66}}},
       {"mark": {"type": "text", "text": "= 8.6 x10", "fontSize": 12, "dx": 26.3}, "encoding": {"x": {"datum": 25.1}, "y": {"datum": 0.66}}},
       {"mark": {"type": "text", "text": "-4", "fontSize": 8.5, "dx": 76, "dy": -4.5}, "encoding": {"x": {"datum": 25.1}, "y": {"datum": 0.66}}},
       {"mark": {"type": "text", "text": "s", "fontSize": 12, "dx": 86.9}, "encoding": {"x": {"datum": 25.1}, "y": {"datum": 0.66}}},
       {"mark": {"type": "text", "text": "-1", "fontSize": 8.5, "dx": 92.9, "dy": -4.5}, "encoding": {"x": {"datum": 25.1}, "y": {"datum": 0.66}}},
       {"mark": {"type": "text", "text": "(73%)", "fontSize": 12, "dx": 103.8}, "encoding": {"x": {"datum": 25.1}, "y": {"datum": 0.66}}},
       {"mark": {"type": "text", "text": "ERE (15 min)", "fontSize": 19, "fontWeight": "bold", "align": "center"}, "encoding": {"x": {"datum": 30.25}, "y": {"datum": 1.194}}},
       {"mark": {"type": "text", "text": "C", "fontSize": 21, "fontWeight": "bold"}, "encoding": {"x": {"datum": -13.9}, "y": {"datum": 1.19}}}
      ]
     }
    ]
   },
   {
    "spacing": 24,
    "hconcat": [
     {
      "width": 253, "height": 70,
      "data": {"values": [{}]},
      "layer": [
       {"data": {"name": "pts"}, "transform": [{"filter": "datum.p == 'D'"}], "mark": {"type": "circle", "size": 18, "color": "#b3b3b3", "opacity": 1},
        "encoding": {
         "x": {"field": "t", "type": "quantitative", "scale": {"domain": [-2, 62.5], "nice": false},
           "axis": {"values": [0,10,20,30,40,50,60], "title": "Time (min)", "labelFontSize": 11, "titleFontSize": 10, "tickSize": 5, "labelPadding": -3, "titlePadding": 20}},
         "y": {"field": "y", "type": "quantitative", "scale": {"domain": [-0.04, 1.04], "nice": false},
           "axis": {"values": [0,0.4,0.8], "format": ".1f", "labelOverlap": false, "labelAngle": -90, "labelAlign": "center", "labelBaseline": "alphabetic", "labelFontSize": 11, "labelPadding": 7, "tickSize": 6, "title": "Fraction Bound", "titleFontSize": 10, "titleX": -37, "titleY": 35, "titleAngle": -90, "titleAlign": "center", "titleBaseline": "alphabetic"}}
        }},
       {"data": {"name": "minor"}, "mark": {"type": "rule", "color": "#555555", "strokeWidth": 1}, "encoding": {"x": {"datum": -3.53}, "x2": {"datum": -2}, "y": {"field": "v", "type": "quantitative"}}},
       {"data": {"name": "fit"}, "transform": [{"filter": "datum.p == 'D'"}], "mark": {"type": "line", "color": "#1a1a1a", "strokeWidth": 4.2, "interpolate": "monotone", "strokeCap": "round"},
        "encoding": {"x": {"field": "t", "type": "quantitative"}, "y": {"field": "y", "type": "quantitative"}}},
       {"mark": {"type": "text", "text": "k", "fontSize": 12}, "encoding": {"x": {"datum": 25}, "y": {"datum": 0.85}}},
       {"mark": {"type": "text", "text": "fast", "fontSize": 8.5, "dx": 6, "dy": 2.5}, "encoding": {"x": {"datum": 25}, "y": {"datum": 0.85}}},
       {"mark": {"type": "text", "text": "= 3.1 x10", "fontSize": 12, "dx": 23}, "encoding": {"x": {"datum": 25}, "y": {"datum": 0.85}}},
       {"mark": {"type": "text", "text": "-2", "fontSize": 8.5, "dx": 72.7, "dy": -4.5}, "encoding": {"x": {"datum": 25}, "y": {"datum": 0.85}}},
       {"mark": {"type": "text", "text": "s", "fontSize": 12, "dx": 83.6}, "encoding": {"x": {"datum": 25}, "y": {"datum": 0.85}}},
       {"mark": {"type": "text", "text": "-1", "fontSize": 8.5, "dx": 89.6, "dy": -4.5}, "encoding": {"x": {"datum": 25}, "y": {"datum": 0.85}}},
       {"mark": {"type": "text", "text": "(53%)", "fontSize": 12, "dx": 100.5}, "encoding": {"x": {"datum": 25}, "y": {"datum": 0.85}}},
       {"mark": {"type": "text", "text": "k", "fontSize": 12}, "encoding": {"x": {"datum": 25}, "y": {"datum": 0.66}}},
       {"mark": {"type": "text", "text": "slow", "fontSize": 8.5, "dx": 6, "dy": 2.5}, "encoding": {"x": {"datum": 25}, "y": {"datum": 0.66}}},
       {"mark": {"type": "text", "text": "= 7.7 x10", "fontSize": 12, "dx": 26.3}, "encoding": {"x": {"datum": 25}, "y": {"datum": 0.66}}},
       {"mark": {"type": "text", "text": "-4", "fontSize": 8.5, "dx": 76, "dy": -4.5}, "encoding": {"x": {"datum": 25}, "y": {"datum": 0.66}}},
       {"mark": {"type": "text", "text": "s", "fontSize": 12, "dx": 86.9}, "encoding": {"x": {"datum": 25}, "y": {"datum": 0.66}}},
       {"mark": {"type": "text", "text": "-1", "fontSize": 8.5, "dx": 92.9, "dy": -4.5}, "encoding": {"x": {"datum": 25}, "y": {"datum": 0.66}}},
       {"mark": {"type": "text", "text": "(47%)", "fontSize": 12, "dx": 103.8}, "encoding": {"x": {"datum": 25}, "y": {"datum": 0.66}}},
       {"mark": {"type": "text", "text": "ERE (30 min)", "fontSize": 19, "fontWeight": "bold", "align": "center"}, "encoding": {"x": {"datum": 30.25}, "y": {"datum": 1.194}}},
       {"mark": {"type": "text", "text": "D", "fontSize": 21, "fontWeight": "bold"}, "encoding": {"x": {"datum": -15}, "y": {"datum": 1.19}}}
      ]
     },
     {
      "width": 253, "height": 70,
      "data": {"values": [{}]},
      "layer": [
       {"data": {"name": "pts"}, "transform": [{"filter": "datum.p == 'E'"}], "mark": {"type": "circle", "size": 18, "color": "#b3b3b3", "opacity": 1},
        "encoding": {
         "x": {"field": "t", "type": "quantitative", "scale": {"domain": [-2, 62.5], "nice": false},
           "axis": {"values": [0,10,20,30,40,50,60], "title": "Time (min)", "labelFontSize": 11, "titleFontSize": 10, "tickSize": 5, "labelPadding": -3, "titlePadding": 20}},
         "y": {"field": "y", "type": "quantitative", "scale": {"domain": [-0.04, 1.04], "nice": false},
           "axis": {"values": [0,0.4,0.8], "format": ".1f", "labelOverlap": false, "labelAngle": -90, "labelAlign": "center", "labelBaseline": "alphabetic", "labelFontSize": 11, "labelPadding": 7, "tickSize": 6, "title": "Fraction Bound", "titleFontSize": 10, "titleX": -37, "titleY": 35, "titleAngle": -90, "titleAlign": "center", "titleBaseline": "alphabetic"}}
        }},
       {"data": {"name": "minor"}, "mark": {"type": "rule", "color": "#555555", "strokeWidth": 1}, "encoding": {"x": {"datum": -3.53}, "x2": {"datum": -2}, "y": {"field": "v", "type": "quantitative"}}},
       {"data": {"name": "fit"}, "transform": [{"filter": "datum.p == 'E'"}], "mark": {"type": "line", "color": "#1a1a1a", "strokeWidth": 4.2, "interpolate": "monotone", "strokeCap": "round"},
        "encoding": {"x": {"field": "t", "type": "quantitative"}, "y": {"field": "y", "type": "quantitative"}}},
       {"mark": {"type": "text", "text": "k", "fontSize": 12}, "encoding": {"x": {"datum": 25}, "y": {"datum": 0.85}}},
       {"mark": {"type": "text", "text": "fast", "fontSize": 8.5, "dx": 6, "dy": 2.5}, "encoding": {"x": {"datum": 25}, "y": {"datum": 0.85}}},
       {"mark": {"type": "text", "text": "= 3.7 x10", "fontSize": 12, "dx": 23}, "encoding": {"x": {"datum": 25}, "y": {"datum": 0.85}}},
       {"mark": {"type": "text", "text": "-2", "fontSize": 8.5, "dx": 72.7, "dy": -4.5}, "encoding": {"x": {"datum": 25}, "y": {"datum": 0.85}}},
       {"mark": {"type": "text", "text": "s", "fontSize": 12, "dx": 83.6}, "encoding": {"x": {"datum": 25}, "y": {"datum": 0.85}}},
       {"mark": {"type": "text", "text": "-1", "fontSize": 8.5, "dx": 89.6, "dy": -4.5}, "encoding": {"x": {"datum": 25}, "y": {"datum": 0.85}}},
       {"mark": {"type": "text", "text": "(57%)", "fontSize": 12, "dx": 100.5}, "encoding": {"x": {"datum": 25}, "y": {"datum": 0.85}}},
       {"mark": {"type": "text", "text": "k", "fontSize": 12}, "encoding": {"x": {"datum": 25}, "y": {"datum": 0.66}}},
       {"mark": {"type": "text", "text": "slow", "fontSize": 8.5, "dx": 6, "dy": 2.5}, "encoding": {"x": {"datum": 25}, "y": {"datum": 0.66}}},
       {"mark": {"type": "text", "text": "= 6.7 x10", "fontSize": 12, "dx": 26.3}, "encoding": {"x": {"datum": 25}, "y": {"datum": 0.66}}},
       {"mark": {"type": "text", "text": "-4", "fontSize": 8.5, "dx": 76, "dy": -4.5}, "encoding": {"x": {"datum": 25}, "y": {"datum": 0.66}}},
       {"mark": {"type": "text", "text": "s", "fontSize": 12, "dx": 86.9}, "encoding": {"x": {"datum": 25}, "y": {"datum": 0.66}}},
       {"mark": {"type": "text", "text": "-1", "fontSize": 8.5, "dx": 92.9, "dy": -4.5}, "encoding": {"x": {"datum": 25}, "y": {"datum": 0.66}}},
       {"mark": {"type": "text", "text": "(43%)", "fontSize": 12, "dx": 103.8}, "encoding": {"x": {"datum": 25}, "y": {"datum": 0.66}}},
       {"mark": {"type": "text", "text": "ERE (60 min)", "fontSize": 19, "fontWeight": "bold", "align": "center"}, "encoding": {"x": {"datum": 30.25}, "y": {"datum": 1.194}}},
       {"mark": {"type": "text", "text": "E", "fontSize": 21, "fontWeight": "bold"}, "encoding": {"x": {"datum": -14.2}, "y": {"datum": 1.19}}}
      ]
     }
    ]
   }
  ]
 }
]
}
